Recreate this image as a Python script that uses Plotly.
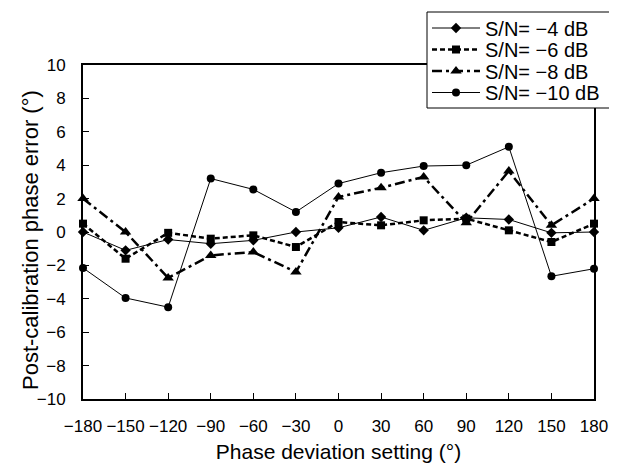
import plotly.graph_objects as go

phase_setting = [-180, -150, -120, -90, -60, -30, 0, 30, 60, 90, 120, 150, 180]
sn_minus4 = [0.0, -1.1, -0.45, -0.7, -0.5, 0.0, 0.25, 0.9, 0.1, 0.85, 0.75, -0.05, 0.0]
sn_minus6 = [0.5, -1.6, -0.05, -0.4, -0.2, -0.9, 0.6, 0.4, 0.7, 0.8, 0.1, -0.6, 0.5]
sn_minus8 = [2.0, 0.0, -2.75, -1.4, -1.2, -2.4, 2.1, 2.65, 3.3, 0.55, 3.65, 0.4, 2.0]
sn_minus10 = [-2.15, -3.95, -4.5, 3.2, 2.55, 1.2, 2.9, 3.55, 3.95, 4.0, 5.1, -2.65, -2.2]

series_names = ["S/N= \u22124 dB", "S/N= \u22126 dB", "S/N= \u22128 dB", "S/N= \u221210 dB"]
x_ticks = [-180, -150, -120, -90, -60, -30, 0, 30, 60, 90, 120, 150, 180]
y_ticks = [-10, -8, -6, -4, -2, 0, 2, 4, 6, 8, 10]
x_title = "Phase deviation setting (\u00b0)"
y_title = "Post-calibration phase error (\u00b0)"

FONT = "Liberation Sans, Arial, sans-serif"

# figure is offset by the page's 8px body margin
W, H = 609, 465
L, R, T, B = 75, 23, 57, 74
plot_w, plot_h = W - L - R, H - T - B

def px_to_paper_x(px):
    return (px - 8 - L) / plot_w

def px_to_paper_y(py):
    return (H - B - (py - 8)) / plot_h

fig = go.Figure()
styles = [
    (sn_minus4, dict(color="black", width=1), dict(symbol="diamond", size=8, color="black")),
    (sn_minus6, dict(color="black", width=2.5, dash="5px,3px"), dict(symbol="square", size=8, color="black")),
    (sn_minus8, dict(color="black", width=2.5, dash="10px,4px,3px,4px"), dict(symbol="triangle-up", size=10, color="black")),
    (sn_minus10, dict(color="black", width=1), dict(symbol="circle", size=8, color="black")),
]
legend_keys = ["legend", "legend2", "legend3", "legend4"]
legend_rows_px = [28, 49.5, 71, 92.5]

for (vals, line, marker), name, lk in zip(styles, series_names, legend_keys):
    fig.add_trace(go.Scatter(x=phase_setting, y=vals, mode="lines+markers", name=name,
                             line=line, marker=marker, cliponaxis=False, legend=lk))

legend_layout = {}
for lk, ry in zip(legend_keys, legend_rows_px):
    legend_layout[lk] = dict(
        xref="paper", yref="paper",
        x=px_to_paper_x(427), y=px_to_paper_y(ry), xanchor="left", yanchor="middle",
        bgcolor="rgba(0,0,0,0)", borderwidth=0,
        font=dict(family=FONT, size=20, color="black"),
        itemwidth=48,
    )

fig.update_layout(
    width=W, height=H,
    margin=dict(l=L, r=R, t=T, b=B, autoexpand=False),
    paper_bgcolor="white", plot_bgcolor="white",
    font=dict(family=FONT, color="black", size=17),
    showlegend=True,
    **legend_layout,
)
# legend frame
fig.add_shape(type="rect", xref="paper", yref="paper",
              x0=px_to_paper_x(427), x1=px_to_paper_x(610),
              y0=px_to_paper_y(108), y1=px_to_paper_y(12),
              line=dict(color="black", width=1), fillcolor="white", layer="above")

# y-axis title
fig.add_annotation(text=y_title, xref="paper", yref="paper",
                   x=px_to_paper_x(30), y=px_to_paper_y(240), xanchor="center", yanchor="middle",
                   textangle=-90, showarrow=False, font=dict(family=FONT, size=22, color="black"))

fig.update_xaxes(
    range=[-180, 180], tickvals=x_ticks, ticktext=[str(v).replace("-", "\u2212") for v in x_ticks],
    showgrid=False, zeroline=False, showline=True, linecolor="black", linewidth=2, mirror=True,
    ticks="inside", ticklen=6, tickwidth=1, tickcolor="black", tickangle=0,
    tickfont=dict(size=17), ticklabelstandoff=11,
    title=dict(text=x_title, font=dict(size=21), standoff=9),
)
fig.update_yaxes(
    range=[-10, 10], tickvals=y_ticks, ticktext=[str(v).replace("-", "\u2212") for v in y_ticks],
    showgrid=False, zeroline=False, showline=True, linecolor="black", linewidth=2, mirror=True,
    ticks="inside", ticklen=6, tickwidth=1, tickcolor="black",
    tickfont=dict(size=17), ticklabelstandoff=12,
)

fig.write_html("out.html")
